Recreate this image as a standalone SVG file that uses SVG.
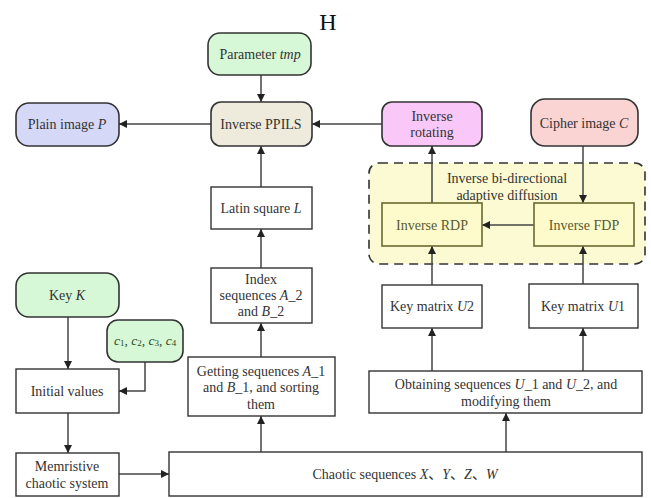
<svg xmlns="http://www.w3.org/2000/svg" width="651" height="498" viewBox="0 0 651 498">
<defs>
<marker id="ah" viewBox="0 0 10 10" refX="10" refY="5" markerWidth="8" markerHeight="8" markerUnits="userSpaceOnUse" orient="auto">
<path d="M0,0 L10,5 L0,10 z" fill="#222"/>
</marker>
</defs>
<style>
text{font-family:"Liberation Serif","Times New Roman","Noto Sans CJK SC",serif;font-size:14px;fill:#333;text-anchor:middle;dominant-baseline:central}
.rr{stroke:#333;stroke-width:1.6}
.box{fill:#fff;stroke:#333;stroke-width:1.4}
.cn{fill:none;stroke:#444;stroke-width:1.5;marker-end:url(#ah)}
.ol{fill:#fdfbcb;stroke:#6b6a30;stroke-width:1.6}
.olt{fill:#5a5930}
</style>
<rect width="651" height="498" fill="#fff"/>
<text x="328" y="22" style="font-size:24px;fill:#111">H</text>

<g id="container-diffusion">
<rect x="369" y="163" width="276" height="101" rx="10" fill="#fcfad2" stroke="#333" stroke-width="1.6" stroke-dasharray="9,6"/>
<text x="507" y="178">Inverse bi-directional</text>
<text x="507" y="195">adaptive diffusion</text>
</g>

<g id="connectors">
<path class="cn" d="M261,75 L261,102"/>
<path class="cn" d="M211,124 L119,124"/>
<path class="cn" d="M382,124 L312,124"/>
<path class="cn" d="M261,187 L261,146"/>
<path class="cn" d="M261,268 L261,229"/>
<path class="cn" d="M261,357 L261,323"/>
<path class="cn" d="M261,452 L261,416"/>
<path class="cn" d="M432,203 L432,146"/>
<path class="cn" d="M583,146 L583,203"/>
<path class="cn" d="M534,225 L482,225"/>
<path class="cn" d="M432,285 L432,246"/>
<path class="cn" d="M583,284 L583,246"/>
<path class="cn" d="M432,371 L432,328"/>
<path class="cn" d="M583,371 L583,328"/>
<path class="cn" d="M506,452 L506,413"/>
<path class="cn" d="M68,317 L68,369"/>
<path class="cn" d="M145,362 L145,391 L119,391"/>
<path class="cn" d="M68,413 L68,453"/>
<path class="cn" d="M119,474 L169,474"/>
</g>

<g id="node-parameter">
<rect class="rr" x="208" y="33" width="103" height="42" rx="12" fill="#d6f8d6"/>
<text x="260" y="54">Parameter <tspan font-style="italic">tmp</tspan></text>
</g>
<g id="node-ppils">
<rect class="rr" x="211" y="102" width="101" height="44" rx="10" fill="#eeebdc"/>
<text x="261" y="124">Inverse PPILS</text>
</g>
<g id="node-plain">
<rect class="rr" x="16" y="103" width="103" height="43" rx="13" fill="#d6d8f8"/>
<text x="67" y="124">Plain image <tspan font-style="italic">P</tspan></text>
</g>
<g id="node-rotating">
<rect class="rr" x="382" y="102" width="100" height="44" rx="10" fill="#f9c8f9"/>
<text x="432" y="116">Inverse</text>
<text x="432" y="132">rotating</text>
</g>
<g id="node-cipher">
<rect class="rr" x="531" y="99" width="107" height="47" rx="14" fill="#fad4d2"/>
<text x="584" y="123">Cipher image <tspan font-style="italic">C</tspan></text>
</g>
<g id="node-rdp">
<rect class="ol" x="382" y="203" width="100" height="43"/>
<text class="olt" x="432" y="225">Inverse RDP</text>
</g>
<g id="node-fdp">
<rect class="ol" x="534" y="203" width="100" height="43"/>
<text class="olt" x="584" y="225">Inverse FDP</text>
</g>
<g id="node-u2">
<rect class="box" x="382" y="285" width="100" height="43"/>
<text x="432" y="306">Key matrix <tspan font-style="italic">U</tspan>2</text>
</g>
<g id="node-u1">
<rect class="box" x="529" y="284" width="109" height="44"/>
<text x="583" y="306">Key matrix <tspan font-style="italic">U</tspan>1</text>
</g>
<g id="node-obtaining">
<rect class="box" x="369" y="371" width="273" height="42"/>
<text x="506" y="384">Obtaining sequences <tspan font-style="italic">U</tspan>_1 and <tspan font-style="italic">U</tspan>_2, and</text>
<text x="506" y="401">modifying them</text>
</g>
<g id="node-chaotic">
<rect class="box" x="169" y="452" width="473" height="44"/>
<text x="405" y="474">Chaotic sequences <tspan font-style="italic">X</tspan>、<tspan font-style="italic">Y</tspan>、<tspan font-style="italic">Z</tspan>、<tspan font-style="italic">W</tspan></text>
</g>
<g id="node-getting">
<rect class="box" x="188" y="357" width="147" height="59"/>
<text x="261" y="371">Getting sequences <tspan font-style="italic">A</tspan>_1</text>
<text x="261" y="387">and <tspan font-style="italic">B</tspan>_1, and sorting</text>
<text x="261" y="404">them</text>
</g>
<g id="node-index">
<rect class="box" x="211" y="268" width="101" height="55"/>
<text x="261" y="279">Index</text>
<text x="261" y="295">sequences <tspan font-style="italic">A</tspan>_2</text>
<text x="261" y="311">and <tspan font-style="italic">B</tspan>_2</text>
</g>
<g id="node-latin">
<rect class="box" x="211" y="187" width="101" height="42"/>
<text x="261" y="208">Latin square <tspan font-style="italic">L</tspan></text>
</g>
<g id="node-keyk">
<rect class="rr" x="16" y="273" width="103" height="44" rx="13" fill="#d6f8d6"/>
<text x="67" y="295">Key <tspan font-style="italic">K</tspan></text>
</g>
<g id="node-c">
<rect class="rr" x="107" y="320" width="76" height="42" rx="11" fill="#d6f8d6"/>
<text x="145" y="340" style="font-size:13.5px;fill:#2a4a2a"><tspan font-style="italic">c</tspan><tspan font-size="9" dy="3">1</tspan><tspan dy="-3">, </tspan><tspan font-style="italic">c</tspan><tspan font-size="9" dy="3">2</tspan><tspan dy="-3">, </tspan><tspan font-style="italic">c</tspan><tspan font-size="9" dy="3">3</tspan><tspan dy="-3">, </tspan><tspan font-style="italic">c</tspan><tspan font-size="9" dy="3">4</tspan></text>
</g>
<g id="node-initial">
<rect class="box" x="16" y="369" width="103" height="44"/>
<text x="67" y="391">Initial values</text>
</g>
<g id="node-memristive">
<rect class="box" x="16" y="453" width="103" height="43"/>
<text x="67" y="466">Memristive</text>
<text x="67" y="483">chaotic system</text>
</g>
</svg>
